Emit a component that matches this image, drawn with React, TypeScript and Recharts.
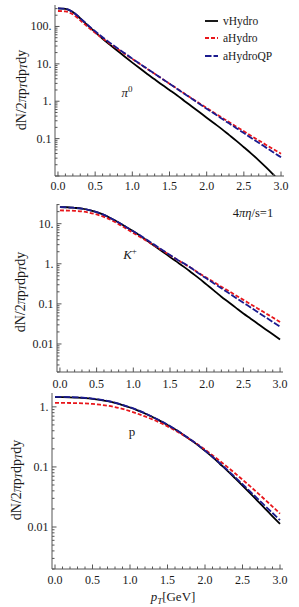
import { LineChart, Line, XAxis, YAxis, Legend } from 'recharts';

const SERIF = '"Liberation Serif", "Times New Roman", serif';
const FRAME = '#555';
const INK = '#1a1a1a';

// transverse momentum grid (GeV)
const pT = [0, 0.1, 0.2, 0.3, 0.4, 0.5, 0.6, 0.7, 0.8, 0.9, 1, 1.1, 1.2, 1.3, 1.4, 1.5, 1.6, 1.7, 1.8, 1.9, 2, 2.1, 2.2, 2.3, 2.4, 2.5, 2.6, 2.7, 2.8, 2.9, 3];

// pi0 spectra
const pionVHydro = [305, 297, 244, 164, 107, 70.8, 46.8, 32.4, 22.4, 15.5, 10.8, 7.59, 5.37, 3.85, 2.75, 2.00, 1.45, 1.02, 0.724, 0.513, 0.363, 0.257, 0.182, 0.126, 0.0871, 0.0589, 0.0398, 0.0263, 0.0170, 0.0107, 0.00661];
const pionAHydro = [259, 252, 211, 146, 97.7, 67.6, 47.9, 34.7, 25.1, 18.4, 13.5, 9.93, 7.33, 5.41, 3.99, 2.94, 2.18, 1.61, 1.19, 0.887, 0.661, 0.493, 0.369, 0.277, 0.208, 0.157, 0.118, 0.0895, 0.0679, 0.0516, 0.0394];
const pionAHydroQP = [305, 297, 244, 167, 110, 74.3, 51.4, 36.4, 26.2, 19.1, 13.8, 10.1, 7.43, 5.46, 4.01, 2.94, 2.16, 1.59, 1.17, 0.857, 0.630, 0.467, 0.346, 0.256, 0.190, 0.141, 0.104, 0.0774, 0.0574, 0.0426, 0.0316];

// K+ spectra
const kaonVHydro = [25.9, 25.7, 24.8, 23.7, 21.9, 19.5, 16.6, 13.5, 10.7, 8.32, 6.46, 4.90, 3.63, 2.69, 2.00, 1.48, 1.10, 0.813, 0.589, 0.427, 0.302, 0.214, 0.151, 0.110, 0.0794, 0.0575, 0.0427, 0.0316, 0.0234, 0.0174, 0.0129];
const kaonAHydro = [21.4, 21.3, 20.9, 20.2, 18.8, 17.0, 14.8, 12.3, 9.77, 7.59, 5.89, 4.57, 3.55, 2.75, 2.14, 1.62, 1.26, 0.977, 0.759, 0.575, 0.447, 0.347, 0.269, 0.209, 0.162, 0.126, 0.0977, 0.0759, 0.0589, 0.0457, 0.0355];
const kaonAHydroQP = [25.9, 25.7, 24.8, 23.7, 21.9, 19.5, 16.6, 13.5, 10.7, 8.32, 6.46, 5.01, 3.80, 2.88, 2.19, 1.66, 1.26, 1.00, 0.759, 0.562, 0.427, 0.324, 0.245, 0.186, 0.141, 0.107, 0.0813, 0.0617, 0.0468, 0.0355, 0.0269];

// proton spectra
const protonVHydro = [1.456, 1.453, 1.442, 1.426, 1.400, 1.362, 1.309, 1.242, 1.161, 1.071, 0.975, 0.875, 0.775, 0.676, 0.585, 0.500, 0.422, 0.351, 0.287, 0.233, 0.185, 0.146, 0.112, 0.0859, 0.0650, 0.0489, 0.0366, 0.0273, 0.0203, 0.0151, 0.0113];
const protonAHydro = [1.167, 1.164, 1.159, 1.151, 1.138, 1.117, 1.086, 1.045, 0.991, 0.925, 0.849, 0.771, 0.693, 0.618, 0.545, 0.474, 0.407, 0.345, 0.288, 0.238, 0.194, 0.156, 0.125, 0.0993, 0.0783, 0.0614, 0.0478, 0.0370, 0.0285, 0.0219, 0.0167];
const protonAHydroQP = [1.469, 1.466, 1.455, 1.439, 1.413, 1.374, 1.321, 1.253, 1.172, 1.081, 0.984, 0.883, 0.782, 0.682, 0.590, 0.505, 0.426, 0.354, 0.290, 0.235, 0.187, 0.148, 0.115, 0.0885, 0.0678, 0.0516, 0.0392, 0.0297, 0.0225, 0.0171, 0.0130];

// ticks
const xTicks = [0, 0.1, 0.2, 0.3, 0.4, 0.5, 0.6, 0.7, 0.8, 0.9, 1, 1.1, 1.2, 1.3, 1.4, 1.5, 1.6, 1.7, 1.8, 1.9, 2, 2.1, 2.2, 2.3, 2.4, 2.5, 2.6, 2.7, 2.8, 2.9, 3];
const pionYTicks = [0.01, 0.02, 0.03, 0.04, 0.05, 0.06, 0.07, 0.08, 0.09, 0.1, 0.2, 0.3, 0.4, 0.5, 0.6, 0.7, 0.8, 0.9, 1, 2, 3, 4, 5, 6, 7, 8, 9, 10, 20, 30, 40, 50, 60, 70, 80, 90, 100, 200, 300];
const kaonYTicks = [0.002, 0.003, 0.004, 0.005, 0.006, 0.007, 0.008, 0.009, 0.01, 0.02, 0.03, 0.04, 0.05, 0.06, 0.07, 0.08, 0.09, 0.1, 0.2, 0.3, 0.4, 0.5, 0.6, 0.7, 0.8, 0.9, 1, 2, 3, 4, 5, 6, 7, 8, 9, 10, 20, 30];
const protonYTicks = [0.002, 0.003, 0.004, 0.005, 0.006, 0.007, 0.008, 0.009, 0.01, 0.02, 0.03, 0.04, 0.05, 0.06, 0.07, 0.08, 0.09, 0.1, 0.2, 0.3, 0.4, 0.5, 0.6, 0.7, 0.8, 0.9, 1];
const pionYLabels: Record<string, string> = { '0.1': '0.1', '1': '1.', '10': '10.', '100': '100.' };
const kaonYLabels: Record<string, string> = { '0.01': '0.01', '0.1': '0.1', '1': '1.', '10': '10.' };
const protonYLabels: Record<string, string> = { '0.01': '0.01', '0.1': '0.1', '1': '1.' };

const seriesOrder = ['vHydro', 'aHydro', 'aHydroQP'];
const seriesStyle: Record<string, { name: string; stroke: string; dash?: string }> = {
  vHydro: { name: 'vHydro', stroke: '#000000' },
  aHydro: { name: 'aHydro', stroke: '#e8161b', dash: '4 2' },
  aHydroQP: { name: 'aHydroQP', stroke: '#1b1b8f', dash: '6.5 2' },
};

const build = (v: number[], a: number[], q: number[]) =>
  pT.map((x, i) => ({ pT: x, vHydro: v[i], aHydro: a[i], aHydroQP: q[i] }));

const pionData = build(pionVHydro, pionAHydro, pionAHydroQP);
const kaonData = build(kaonVHydro, kaonAHydro, kaonAHydroQP);
const protonData = build(protonVHydro, protonAHydro, protonAHydroQP);

const isHalfStep = (v: number) => Math.abs(v * 2 - Math.round(v * 2)) < 1e-6;
const isDecade = (v: number) => Math.abs(Math.log10(v) - Math.round(Math.log10(v))) < 1e-6;

// inward frame ticks, Mathematica style
const FrameTick = (props: any) => {
  const { x, y, payload, side, labels, labelDy } = props;
  const v = payload.value;
  const horizontal = side === 'bottom' || side === 'top';
  const major = horizontal ? isHalfStep(v) : isDecade(v);
  const len = major ? 4.5 : 2.5;
  let line = null;
  let text = null;
  if (side === 'bottom') {
    line = <line x1={x} y1={y} x2={x} y2={y - len} stroke={FRAME} />;
    if (major) {
      text = (
        <text x={x} y={y + labelDy} textAnchor="middle" dominantBaseline="central" fontFamily={SERIF} fontSize={12} fill={INK}>
          {v.toFixed(1)}
        </text>
      );
    }
  } else if (side === 'top') {
    line = <line x1={x} y1={y} x2={x} y2={y + len} stroke={FRAME} />;
  } else if (side === 'left') {
    line = <line x1={x} y1={y} x2={x + len} y2={y} stroke={FRAME} />;
    const label = labels ? labels[String(v)] : undefined;
    if (label) {
      text = (
        <text x={x - 3.5} y={y} textAnchor="end" dominantBaseline="central" fontFamily={SERIF} fontSize={12} fill={INK}>
          {label}
        </text>
      );
    }
  } else {
    line = <line x1={x} y1={y} x2={x - len} y2={y} stroke={FRAME} />;
  }
  return (
    <g>
      {line}
      {text}
    </g>
  );
};

const LegendBox = ({ payload }: any) => {
  const items = [...(payload || [])].sort(
    (a: any, b: any) => seriesOrder.indexOf(a.dataKey) - seriesOrder.indexOf(b.dataKey)
  );
  return (
    <div style={{ fontFamily: SERIF, fontSize: 11.5, color: INK }}>
      {items.map((entry: any) => {
        const s = seriesStyle[entry.dataKey] || seriesStyle.vHydro;
        return (
          <div key={s.name} style={{ display: 'flex', alignItems: 'center', height: 17.5 }}>
            <svg width={17} height={6} style={{ marginRight: 2 }}>
              <line x1={1} y1={3} x2={14} y2={3} stroke={s.stroke} strokeWidth={1.8} strokeDasharray={s.dash} />
            </svg>
            <span>{s.name}</span>
          </div>
        );
      })}
    </div>
  );
};

type PanelProps = {
  data: any[];
  top: number;
  height: number;
  plotTop: number;
  plotBottom: number;
  left: number;
  right: number;
  yDomain: [number, number];
  yTicks: number[];
  yLabels: Record<string, string>;
  labelDy: number;
  legend?: boolean;
};

const Panel = ({ data, top, height, plotTop, plotBottom, left, right, yDomain, yTicks, yLabels, labelDy, legend }: PanelProps) => (
  <div style={{ position: 'absolute', left: 0, top }}>
    <LineChart width={299} height={height} data={data} margin={{ top: plotTop, right: 299 - right, bottom: 0, left: 0 }}>
      <XAxis
        dataKey="pT"
        type="number"
        domain={[-0.04, 3.04]}
        allowDataOverflow
        ticks={xTicks}
        interval={0}
        height={height - plotBottom}
        tickSize={0}
        tickMargin={0}
        tickLine={false}
        axisLine={{ stroke: FRAME }}
        tick={<FrameTick side="bottom" labelDy={labelDy} />}
      />
      <XAxis
        xAxisId="top"
        orientation="top"
        dataKey="pT"
        type="number"
        domain={[-0.04, 3.04]}
        allowDataOverflow
        ticks={xTicks}
        interval={0}
        height={0}
        tickSize={0}
        tickMargin={0}
        tickLine={false}
        axisLine={{ stroke: FRAME }}
        tick={<FrameTick side="top" />}
      />
      <YAxis
        type="number"
        scale="log"
        domain={yDomain}
        allowDataOverflow
        ticks={yTicks}
        interval={0}
        width={left}
        tickSize={0}
        tickMargin={0}
        tickLine={false}
        axisLine={{ stroke: FRAME }}
        tick={<FrameTick side="left" labels={yLabels} />}
      />
      <YAxis
        yAxisId="right"
        orientation="right"
        type="number"
        scale="log"
        domain={yDomain}
        allowDataOverflow
        ticks={yTicks}
        interval={0}
        width={0}
        tickSize={0}
        tickMargin={0}
        tickLine={false}
        axisLine={{ stroke: FRAME }}
        tick={<FrameTick side="right" />}
      />
      {seriesOrder.map((key) => (
        <Line
          key={key}
          dataKey={key}
          name={seriesStyle[key].name}
          type="monotone"
          stroke={seriesStyle[key].stroke}
          strokeWidth={1.8}
          strokeDasharray={seriesStyle[key].dash}
          dot={false}
          isAnimationActive={false}
        />
      ))}
      {legend && (
        <Legend
          layout="vertical"
          align="center"
          verticalAlign="middle"
          content={<LegendBox />}
          wrapperStyle={{ left: 204, top: 12, width: 90, height: 54 }}
        />
      )}
    </LineChart>
  </div>
);

const YTitle = ({ cx, cy }: { cx: number; cy: number }) => (
  <text
    transform={`rotate(-90 ${cx} ${cy})`}
    x={cx}
    y={cy}
    textAnchor="middle"
    dominantBaseline="central"
    fontFamily={SERIF}
    fontSize={14}
    fill={INK}
  >
    dN/2<tspan fontStyle="italic">π</tspan>p
    <tspan fontStyle="italic" fontSize={9.5} dy={3}>T</tspan>
    <tspan dy={-3}>dp</tspan>
    <tspan fontStyle="italic" fontSize={9.5} dy={3}>T</tspan>
    <tspan dy={-3}>dy</tspan>
  </text>
);

export default function App() {
  return (
    <div style={{ position: 'absolute', left: 0, top: 0, width: 299, height: 607, background: '#fff' }}>
      <Panel data={pionData} top={0} height={192} plotTop={5} plotBottom={176} left={55} right={284}
        yDomain={[0.01, 375]} yTicks={pionYTicks} yLabels={pionYLabels} labelDy={9.5} legend />
      <Panel data={kaonData} top={192} height={200} plotTop={12} plotBottom={180} left={57} right={283}
        yDomain={[0.002, 31]} yTicks={kaonYTicks} yLabels={kaonYLabels} labelDy={11.5} />
      <Panel data={protonData} top={390} height={217} plotTop={3} plotBottom={179} left={52} right={283}
        yDomain={[0.002, 1.7]} yTicks={protonYTicks} yLabels={protonYLabels} labelDy={10.5} />
      <svg width={299} height={607} style={{ position: 'absolute', left: 0, top: 0, pointerEvents: 'none' }}>
        <YTitle cx={21} cy={90} />
        <YTitle cx={20} cy={292} />
        <YTitle cx={16} cy={480} />
        <text x={127} y={97} fontFamily={SERIF} fontSize={13} fill={INK} textAnchor="middle">
          <tspan fontStyle="italic">π</tspan>
          <tspan fontSize={9} dy={-5}>0</tspan>
        </text>
        <text x={130} y={259} fontFamily={SERIF} fontSize={13} fill={INK} textAnchor="middle">
          <tspan fontStyle="italic">K</tspan>
          <tspan fontSize={9} dy={-5}>+</tspan>
        </text>
        <text x={253} y={217} fontFamily={SERIF} fontSize={12.5} fill={INK} textAnchor="middle">
          4<tspan fontStyle="italic">πη</tspan>/s=1
        </text>
        <text x={132} y={436} fontFamily={SERIF} fontSize={13} fill={INK} textAnchor="middle">
          p
        </text>
        <text x={173} y={601} fontFamily={SERIF} fontSize={13} fill={INK} textAnchor="middle">
          <tspan fontStyle="italic">p</tspan>
          <tspan fontStyle="italic" fontSize={9} dy={3}>T</tspan>
          <tspan dy={-3}>[GeV]</tspan>
        </text>
      </svg>
    </div>
  );
}
